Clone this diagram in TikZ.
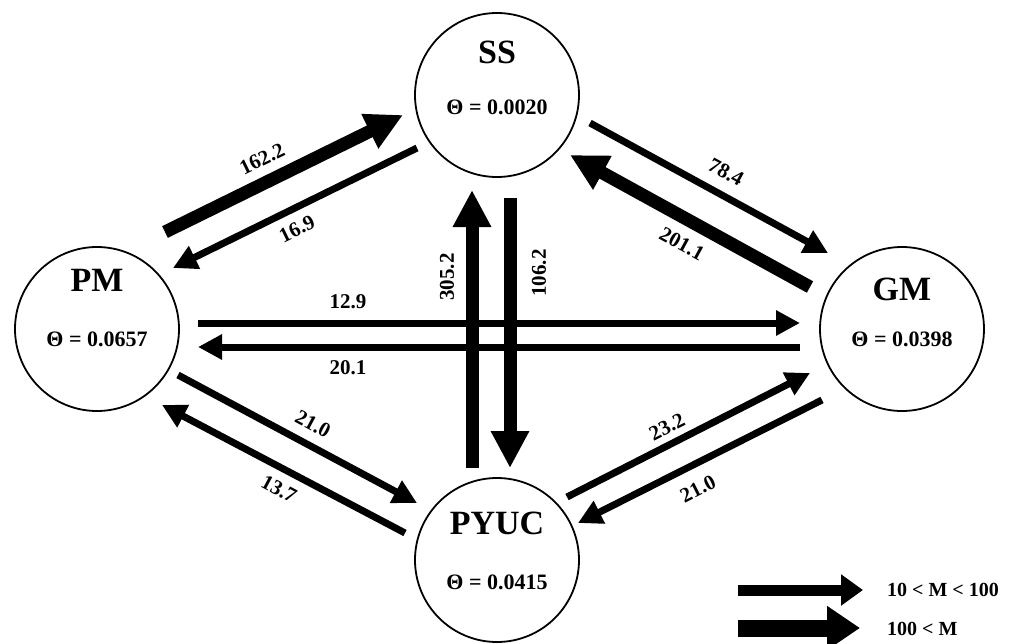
\documentclass[tikz,border=0pt]{standalone}
\usepackage{fontspec}
\setmainfont{Liberation Serif}
\usetikzlibrary{arrows.meta}
\begin{document}
\begin{tikzpicture}[x=1pt,y=-1pt,
  region/.style={circle,draw,line width=1.8pt,minimum size=164pt,inner sep=0pt},
  regname/.style={font=\fontsize{34}{36}\selectfont\bfseries},
  theta/.style={font=\fontsize{22}{24}\selectfont\bfseries},
  flowlabel/.style={font=\fontsize{21}{23}\selectfont\bfseries,inner sep=0pt},
  thinflow/.style={line width=7pt,-{Triangle[length=24pt,width=24pt]}},
  thickflow/.style={line width=13pt,-{Triangle[length=37pt,width=36pt]}},
  legendtext/.style={font=\fontsize{20}{22}\selectfont\bfseries,anchor=west,inner sep=0pt}]
\useasboundingbox (0,0) rectangle (1023,643);

% regions
\node[region] (SS) at (497,95) {};
\node[region] (PM) at (97,329) {};
\node[region] (GM) at (902,329) {};
\node[region] (PYUC) at (497,560) {};

\node[regname] (SSn) at (497,52) {SS};
\node[theta] (SSt) at (497,107) {Θ = 0.0020};
\node[regname] (PMn) at (97,280) {PM};
\node[theta] (PMt) at (97,339) {Θ = 0.0657};
\node[regname] (GMn) at (902,289) {GM};
\node[theta] (GMt) at (902,339) {Θ = 0.0398};
\node[regname] (PYUCn) at (497,523) {PYUC};
\node[theta] (PYUCt) at (497,582) {Θ = 0.0415};

% connector end points
\coordinate (pmss1) at (165,232);  \coordinate (pmss2) at (403,115);
\coordinate (sspm1) at (417,148);  \coordinate (sspm2) at (173,268);
\coordinate (ssgm1) at (590,123);  \coordinate (ssgm2) at (828,253);
\coordinate (gmss1) at (810,287);  \coordinate (gmss2) at (570,155);
\coordinate (pmgm1) at (198,323);  \coordinate (pmgm2) at (800,323);
\coordinate (gmpm1) at (800,347);  \coordinate (gmpm2) at (198,347);
\coordinate (pyss1) at (472,468);  \coordinate (pyss2) at (472,190);
\coordinate (sspy1) at (510,198);  \coordinate (sspy2) at (510,468);
\coordinate (pmpy1) at (178,375);  \coordinate (pmpy2) at (417,503);
\coordinate (pypm1) at (405,533);  \coordinate (pypm2) at (162,405);
\coordinate (pygm1) at (567,497);  \coordinate (pygm2) at (810,373);
\coordinate (gmpy1) at (822,400);  \coordinate (gmpy2) at (578,523);

% flows
\draw[thickflow] (pmss1) -- (pmss2);
\draw[thinflow] (sspm1) -- (sspm2);
\draw[thinflow] (ssgm1) -- (ssgm2);
\draw[thickflow] (gmss1) -- (gmss2);
\draw[thinflow] (pmgm1) -- (pmgm2);
\draw[thinflow] (gmpm1) -- (gmpm2);
\draw[thickflow] (pyss1) -- (pyss2);
\draw[thickflow] (sspy1) -- (sspy2);
\draw[thinflow] (pmpy1) -- (pmpy2);
\draw[thinflow] (pypm1) -- (pypm2);
\draw[thinflow] (pygm1) -- (pygm2);
\draw[thinflow] (gmpy1) -- (gmpy2);

% flow labels
\node[flowlabel,rotate=26] (l1) at (262,159) {162.2};
\node[flowlabel,rotate=26] (l2) at (297,229) {16.9};
\node[flowlabel,rotate=-28.6] (l3) at (726,172) {78.4};
\node[flowlabel,rotate=-28.6] (l4) at (682,244) {201.1};
\node[flowlabel] (l5) at (348,302) {12.9};
\node[flowlabel] (l6) at (348,368) {20.1};
\node[flowlabel,rotate=90] (l7) at (447,277) {305.2};
\node[flowlabel,rotate=90] (l8) at (539,273) {106.2};
\node[flowlabel,rotate=-28.2] (l9) at (313,424) {21.0};
\node[flowlabel,rotate=-28.2] (l10) at (279,489) {13.7};
\node[flowlabel,rotate=27] (l11) at (667,427) {23.2};
\node[flowlabel,rotate=27] (l12) at (698,489) {21.0};

% legend
\coordinate (lg1a) at (738,590); \coordinate (lg1b) at (863,590);
\coordinate (lg2a) at (738,628); \coordinate (lg2b) at (860,628);
\draw[line width=11pt,-{Triangle[length=22pt,width=30pt]}] (lg1a) -- (lg1b);
\draw[line width=17pt,-{Triangle[length=33pt,width=42pt]}] (lg2a) -- (lg2b);
\node[legendtext] (lt1) at (887,590) {10 < M < 100};
\node[legendtext] (lt2) at (887,629) {100 < M};
\end{tikzpicture}
\end{document}
